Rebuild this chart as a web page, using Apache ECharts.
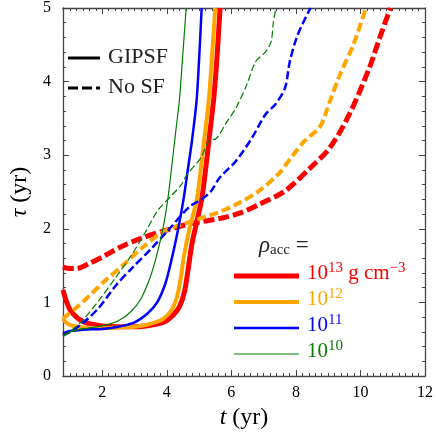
<!DOCTYPE html>
<html>
<head>
<meta charset="utf-8">
<script src="https://cdn.jsdelivr.net/npm/echarts@6/dist/echarts.min.js"></script>
<style>
html,body{margin:0;padding:0;background:#fff;}
#chart{width:436px;height:435px;}
</style>
</head>
<body>
<div id="chart"></div>
<script>
// ---- data: [t (yr), tau (yr)] ----
var gipsf13 = [[0.78,1.17],[0.9,1.0],[1.0,0.9],[1.2,0.8],[1.4,0.74],[1.6,0.71],[2.0,0.68],[2.5,0.67],[3.0,0.67],[3.5,0.69],[3.9,0.73],[4.2,0.83],[4.4,0.95],[4.55,1.15],[4.66,1.45],[4.78,1.8],[4.93,2.1],[5.08,2.4],[5.2,2.8],[5.33,3.3],[5.45,3.75],[5.55,4.3],[5.65,5.0]];
var gipsf12 = [[0.78,0.78],[0.9,0.72],[1.1,0.68],[1.4,0.66],[2.0,0.65],[2.5,0.66],[3.0,0.67],[3.5,0.71],[3.9,0.78],[4.15,0.9],[4.3,1.05],[4.42,1.3],[4.52,1.6],[4.7,2.0],[4.93,2.4],[5.1,3.0],[5.3,3.75],[5.4,4.35],[5.5,5.0]];
var gipsf11 = [[0.78,0.58],[1.0,0.61],[1.4,0.63],[2.0,0.64],[2.5,0.67],[3.0,0.73],[3.4,0.85],[3.7,1.0],[3.95,1.25],[4.14,1.57],[4.33,1.95],[4.51,2.38],[4.65,2.8],[4.78,3.2],[4.92,3.73],[5.0,4.3],[5.08,5.0]];
var gipsf10 = [[0.78,0.55],[1.0,0.6],[1.4,0.64],[2.0,0.68],[2.5,0.75],[2.9,0.88],[3.2,1.05],[3.45,1.3],[3.6,1.5],[3.75,1.75],[3.9,2.05],[4.03,2.4],[4.14,2.8],[4.27,3.3],[4.39,3.75],[4.5,4.4],[4.6,5.0]];
var nosf13 = [[0.78,1.48],[1.0,1.46],[1.2,1.46],[1.6,1.53],[2.1,1.64],[2.6,1.76],[3.2,1.87],[3.9,1.97],[4.75,2.07],[5.75,2.15],[6.3,2.22],[6.85,2.33],[7.65,2.51],[8.45,2.83],[9.05,3.1],[9.65,3.55],[10.27,4.18],[10.6,4.6],[10.93,5.0]];
var nosf12 = [[0.78,0.78],[1.2,0.93],[1.6,1.09],[2.1,1.3],[2.63,1.5],[3.23,1.74],[3.93,1.97],[4.75,2.1],[5.63,2.23],[6.23,2.35],[6.84,2.51],[7.45,2.74],[7.84,2.96],[8.26,3.19],[8.75,3.39],[9.05,3.73],[9.36,4.09],[9.78,4.5],[10.17,5.0]];
var nosf11 = [[0.78,0.55],[1.0,0.6],[1.4,0.72],[1.9,0.93],[2.42,1.23],[2.93,1.47],[3.54,1.74],[4.02,1.97],[4.7,2.3],[5.0,2.38],[5.35,2.5],[5.63,2.69],[6.14,2.92],[6.63,3.23],[7.05,3.55],[7.36,3.69],[7.66,3.91],[7.81,4.27],[8.05,4.63],[8.45,5.0]];
var nosf10 = [[0.78,0.54],[1.0,0.6],[1.4,0.76],[1.9,1.03],[2.42,1.34],[2.93,1.66],[3.33,1.95],[3.72,2.25],[4.14,2.45],[4.45,2.6],[4.63,2.74],[5.05,2.96],[5.3,3.19],[5.54,3.23],[5.84,3.44],[6.14,3.64],[6.48,3.96],[6.75,4.27],[7.05,4.4],[7.23,4.54],[7.3,4.8],[7.38,5.0]];

// ---- tick labels ----
var xMajor = [2,4,6,8,10,12];
var yMajor = [0,1,2,3,4,5];
var xMin = 0.78, xMax = 12, yMin = 0, yMax = 5;
var xMinor = [];
for (var i = 4; i <= 60; i++) { var v = +(i*0.2).toFixed(1); if (v >= xMin && xMajor.indexOf(v) < 0) xMinor.push(v); }
var yMinor = [];
for (var j = 1; j < 25; j++) { var w = +(j*0.2).toFixed(1); if (yMajor.indexOf(w) < 0) yMinor.push(w); }

var FONT = '"Liberation Serif", "DejaVu Serif", serif';
var AX = '#444';
var colors = {c13:'#ff0000', c12:'#ffa500', c11:'#0000ff', c10:'#007f00'};
var widths = {c13:5, c12:4, c11:2.5, c10:1.2};

function xAx(pos, minor, showLine, label) {
  return {
    type:'value', min:xMin, max:xMax, position:pos,
    axisLine:{show:showLine, onZero:false, lineStyle:{color:AX, width:1.3}},
    axisTick:{show:true, inside:true, length: minor?3:6, customValues: minor?xMinor:xMajor, lineStyle:{color:AX, width:1}},
    axisLabel:{show:!!label, customValues:xMajor, color:'#000', fontFamily:FONT, fontSize:16, margin:9},
    splitLine:{show:false},
    name: label ? '{i|t} (yr)' : '', nameLocation:'middle', nameGap:26,
    nameTextStyle:{color:'#000', fontFamily:FONT, fontSize:24, rich:{i:{fontStyle:'italic', fontFamily:FONT, fontSize:24, color:'#000'}}}
  };
}
function yAx(pos, minor, showLine, label) {
  return {
    type:'value', min:yMin, max:yMax, position:pos,
    axisLine:{show:showLine, onZero:false, lineStyle:{color:AX, width:1.3}},
    axisTick:{show:true, inside:true, length: minor?3:6, customValues: minor?yMinor:yMajor, lineStyle:{color:AX, width:1}},
    axisLabel:{show:!!label, customValues:yMajor, color:'#000', fontFamily:FONT, fontSize:16, margin:12},
    splitLine:{show:false},
    name: label ? '{i|τ} (yr)' : '', nameLocation:'middle', nameGap:28,
    nameTextStyle:{color:'#000', fontFamily:FONT, fontSize:24, rich:{i:{fontStyle:'italic', fontFamily:FONT, fontSize:24, color:'#000'}}}
  };
}

function ser(name, data, key, dashed, dash) {
  return {
    name:name, type:'line', data:data, xAxisIndex:0, yAxisIndex:0,
    showSymbol:false, smooth:0.3, clip:true, animation:false,
    lineStyle:{color:colors[key], width:widths[key], type: dashed ? dash : 'solid', cap:'butt'},
    z: 10 - widths[key]
  };
}

function supText(color, top, main, sup, tail, tailSup) {
  var txt = '{b|10}{u|' + sup + '}' + (tail ? '{b|' + tail + '}{u|' + tailSup + '}' : '');
  return {type:'text', left:307, top:top, style:{fill:color, rich:{
    b:{fontSize:21, fontFamily:FONT, fill:color},
    u:{fontSize:15, fontFamily:FONT, fill:color, padding:[0,0,10,0]}}, text:txt}};
}

var chart = echarts.init(document.getElementById('chart'), null, {renderer:'canvas'});
var option = {
  animation:false,
  backgroundColor:'#fff',
  grid:{left:56, top:7, right:10, bottom:59, containLabel:false},
  xAxis:[xAx('bottom',false,true,true), xAx('bottom',true,false,false), xAx('top',false,true,false), xAx('top',true,false,false)],
  yAxis:[yAx('left',false,true,true), yAx('left',true,false,false), yAx('right',false,true,false), yAx('right',true,false,false)],
  series:[
    ser('No SF 1e13', nosf13, 'c13', true, [11,4]),
    ser('No SF 1e12', nosf12, 'c12', true, [9,4]),
    ser('No SF 1e11', nosf11, 'c11', true, [8,3.5]),
    ser('No SF 1e10', nosf10, 'c10', true, [7,3]),
    ser('GIPSF 1e13', gipsf13, 'c13', false),
    ser('GIPSF 1e12', gipsf12, 'c12', false),
    ser('GIPSF 1e11', gipsf11, 'c11', false),
    ser('GIPSF 1e10', gipsf10, 'c10', false)
  ],
  graphic:[
    {type:'line', shape:{x1:68,y1:58,x2:100,y2:58}, style:{stroke:'#000', lineWidth:3}},
    {type:'text', left:108, top:46, style:{text:'GIPSF', fill:'#222', font:'22px '+FONT}},
    {type:'line', shape:{x1:68,y1:88,x2:100,y2:88}, style:{stroke:'#000', lineWidth:3, lineDash:[10,4]}},
    {type:'text', left:108, top:76, style:{text:'No SF', fill:'#222', font:'22px '+FONT}},
    {type:'text', left:259, top:234, style:{rich:{i:{fontStyle:'italic', fontSize:23, fontFamily:FONT, fill:'#222'}, s:{fontSize:15, fontFamily:FONT, fill:'#222', padding:[10,0,0,0]}, n:{fontSize:23, fontFamily:FONT, fill:'#222'}}, text:'{i|ρ}{s|acc}{n| =}'}},
    {type:'line', shape:{x1:234,y1:276,x2:299,y2:276}, style:{stroke:colors.c13, lineWidth:5}},
    {type:'line', shape:{x1:234,y1:302,x2:299,y2:302}, style:{stroke:colors.c12, lineWidth:4}},
    {type:'line', shape:{x1:234,y1:328,x2:299,y2:328}, style:{stroke:colors.c11, lineWidth:2.5}},
    {type:'line', shape:{x1:234,y1:354,x2:299,y2:354}, style:{stroke:colors.c10, lineWidth:1.2}},
    supText(colors.c13, 261, '10', '13', ' g cm', '−3'),
    supText(colors.c12, 287, '10', '12'),
    supText(colors.c11, 313, '10', '11'),
    supText(colors.c10, 339, '10', '10')
  ]
};
chart.setOption(option);
</script>
</body>
</html>
